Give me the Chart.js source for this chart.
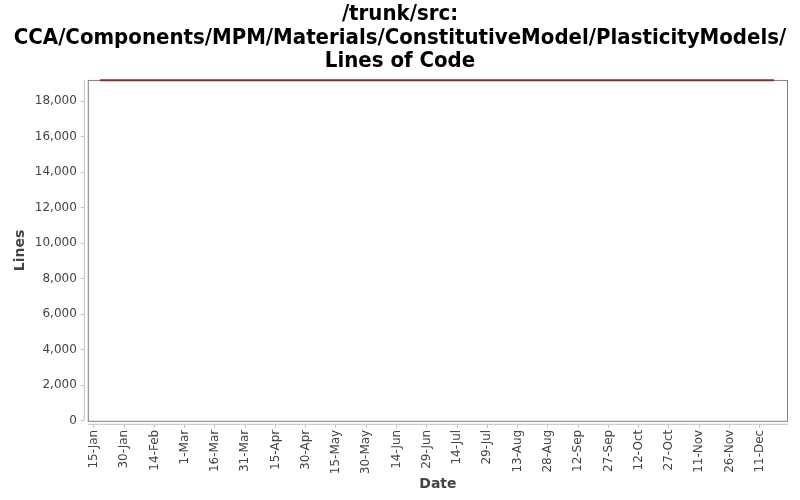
<!DOCTYPE html>
<html>
<head>
<meta charset="utf-8">
<script src="https://cdn.jsdelivr.net/npm/chart.js@4/dist/chart.umd.min.js"></script>
<style>
  html, body { margin: 0; padding: 0; background: #fff; }
  #wrap { width: 800px; height: 500px; }
</style>
</head>
<body>
<div id="wrap"><canvas id="loc"></canvas></div>
<script>
var titleLines = ["/trunk/src:", "CCA/Components/MPM/Materials/ConstitutiveModel/PlasticityModels/", "Lines of Code"];
var dates = ["2009-01-18", "2009-12-18"];
var lines = [19180, 19180];
var tickDates = ["2009-01-15", "2009-01-30", "2009-02-14", "2009-03-01", "2009-03-16", "2009-03-31",
                 "2009-04-15", "2009-04-30", "2009-05-15", "2009-05-30", "2009-06-14", "2009-06-29",
                 "2009-07-14", "2009-07-29", "2009-08-13", "2009-08-28", "2009-09-12", "2009-09-27",
                 "2009-10-12", "2009-10-27", "2009-11-11", "2009-11-26", "2009-12-11"];
var yTicks = [0, 2000, 4000, 6000, 8000, 10000, 12000, 14000, 16000, 18000];

var months = ["Jan","Feb","Mar","Apr","May","Jun","Jul","Aug","Sep","Oct","Nov","Dec"];
function dayOf(s) {
  var p = s.split("-");
  return (Date.UTC(+p[0], +p[1] - 1, +p[2]) - Date.UTC(+p[0], 0, 1)) / 86400000;
}
function dayLabel(d) {
  var dt = new Date(Date.UTC(2009, 0, 1) + d * 86400000);
  return dt.getUTCDate() + "-" + months[dt.getUTCMonth()];
}

var points = dates.map(function(d, i) { return { x: dayOf(d), y: lines[i] }; });

// frame + offset axis lines like the original (drawn under the line)
var frame = {
  id: 'frame',
  beforeDatasetsDraw: function(chart) {
    var a = chart.chartArea, c = chart.ctx;
    c.save();
    c.fillStyle = '#fff';
    c.fillRect(a.left - 4, a.top, 4, a.bottom - a.top + 4);
    c.fillRect(a.left - 4, a.bottom, a.right - a.left + 4, 4);
    c.strokeStyle = '#c0c0c0';
    c.lineWidth = 1;
    c.beginPath();
    c.moveTo(a.left - 3.5, a.top);
    c.lineTo(a.left - 3.5, a.bottom);
    c.moveTo(a.left, a.bottom + 3.5);
    c.lineTo(a.right, a.bottom + 3.5);
    c.stroke();
    c.strokeStyle = '#808080';
    c.strokeRect(a.left + 0.5, a.top + 0.5, a.right - a.left - 1, a.bottom - a.top);
    c.restore();
  }
};

new Chart(document.getElementById('loc'), {
  type: 'line',
  data: {
    datasets: [{
      label: 'Lines',
      data: points,
      borderColor: '#8b2c2c',
      borderWidth: 2,
      pointRadius: 0,
      fill: false,
      tension: 0,
      clip: false
    }]
  },
  plugins: [frame],
  options: {
    responsive: true,
    maintainAspectRatio: false,
    animation: false,
    layout: { padding: { left: 12, right: 12, top: 0, bottom: 5 } },
    plugins: {
      legend: { display: false },
      tooltip: { enabled: false },
      title: {
        display: true,
        text: titleLines,
        color: '#000',
        font: { family: "'DejaVu Sans Condensed', 'DejaVu Sans'", size: 22, weight: 'bold', lineHeight: 1.06 },
        padding: { top: 3, bottom: 7 }
      }
    },
    scales: {
      x: {
        type: 'linear',
        min: 11,
        max: 358,
        afterBuildTicks: function(ax) {
          ax.ticks = tickDates.map(function(d) { return { value: dayOf(d) }; });
        },
        ticks: {
          autoSkip: false,
          minRotation: 90,
          maxRotation: 90,
          padding: 2,
          color: '#444',
          font: { family: "'DejaVu Sans'", size: 12 },
          callback: function(v) { return dayLabel(v); }
        },
        grid: { drawOnChartArea: false, color: '#c0c0c0', tickLength: 7 },
        border: { display: false },
        title: {
          display: true,
          text: 'Date',
          color: '#444',
          font: { family: "'DejaVu Sans'", size: 14, weight: 'bold' },
          padding: { top: 0, bottom: 2 }
        }
      },
      y: {
        min: 0,
        max: 19200,
        afterBuildTicks: function(ax) {
          ax.ticks = yTicks.map(function(v) { return { value: v }; });
        },
        ticks: {
          padding: 4,
          color: '#444',
          font: { family: "'DejaVu Sans'", size: 12 },
          callback: function(v) { return v.toLocaleString('en-US'); }
        },
        grid: { drawOnChartArea: false, color: '#c0c0c0', tickLength: 7 },
        border: { display: false },
        title: {
          display: true,
          text: 'Lines',
          color: '#444',
          font: { family: "'DejaVu Sans'", size: 14, weight: 'bold' },
          padding: { top: 0, bottom: 2 }
        }
      }
    }
  }
});
</script>
</body>
</html>
